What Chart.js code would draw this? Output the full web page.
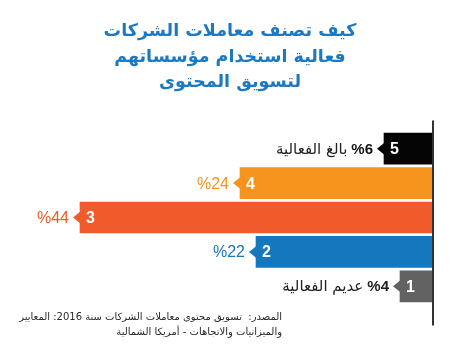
<!DOCTYPE html>
<html lang="ar">
<head>
<meta charset="utf-8">
<script src="https://cdn.jsdelivr.net/npm/chart.js@4.4.1/dist/chart.umd.min.js"></script>
<style>
    html, body { margin: 0; padding: 0; background: #fff; }
    #chart { display: block; }
</style>
</head>
<body>
<canvas id="chart" width="464" height="345"></canvas>
<script>
// ranks 5..1 (top to bottom) and share of companies per rank
const ranks = ['5', '4', '3', '2', '1'];
const shares = [6, 24, 44, 22, 4];
const rankNotes = ['بالغ الفعالية', '', '', '', 'عديم الفعالية'];

const titleLines = ['كيف تصنف معاملات الشركات', 'فعالية استخدام مؤسساتهم', 'لتسويق المحتوى'];
const sourceLines = [
    'المصدر:  تسويق محتوى معاملات الشركات سنة 2016: المعايير',
    'والميزانيات والاتجاهات - أمريكا الشمالية'
];

const barColors = ['#050505', '#f7941d', '#f15a2b', '#1577bd', '#626262'];
const labelColors = ['#111111', '#f7941d', '#f15a2b', '#1577bd', '#222222'];

const ARABIC = '"DejaVu Sans", "Noto Sans", sans-serif';
const LATIN = '"Liberation Sans", Arial, sans-serif';

// shrink a font until the widest line fits
function fitSize(ctx, lines, weight, size, maxWidth) {
    let s = size;
    while (s > 8) {
        ctx.font = weight + s + 'px ' + ARABIC;
        const w = Math.max(...lines.map(l => ctx.measureText(l).width));
        if (w <= maxWidth) break;
        s -= 0.25;
    }
    return s;
}

// arrow tips, rank numbers and value labels on each bar
const barDecor = {
    id: 'barDecor',
    afterDatasetsDraw(chart) {
        const ctx = chart.ctx;
        const meta = chart.getDatasetMeta(0);
        ctx.save();
        meta.data.forEach((bar, i) => {
            const left = bar.x;
            const cy = bar.y;

            // small left-pointing notch at the bar end
            ctx.fillStyle = barColors[i];
            ctx.beginPath();
            ctx.moveTo(left + 1, cy - 6.5);
            ctx.lineTo(left - 7, cy);
            ctx.lineTo(left + 1, cy + 6.5);
            ctx.closePath();
            ctx.fill();

            // rank number inside the bar
            ctx.fillStyle = '#ffffff';
            ctx.font = 'bold 16px ' + LATIN;
            ctx.textAlign = 'center';
            ctx.textBaseline = 'middle';
            ctx.fillText(ranks[i], left + 10.5, cy + 1);

            // value label, then optional note to its left
            const pct = '%' + shares[i];
            const xr = left - 11;
            ctx.textAlign = 'right';
            ctx.fillStyle = labelColors[i];
            ctx.font = (rankNotes[i] ? 'bold 15px ' : '16px ') + LATIN;
            ctx.fillText(pct, xr, cy + 1);
            if (rankNotes[i]) {
                const w = ctx.measureText(pct).width;
                ctx.font = '15px ' + ARABIC;
                ctx.fillStyle = '#222222';
                ctx.fillText(rankNotes[i], xr - w - 4, cy + 1);
            }
        });
        ctx.restore();
    }
};

// baseline rule, heading and source note
const frame = {
    id: 'frame',
    afterDraw(chart) {
        const ctx = chart.ctx;
        const area = chart.chartArea;
        ctx.save();

        ctx.strokeStyle = '#333333';
        ctx.lineWidth = 2;
        ctx.beginPath();
        ctx.moveTo(area.right + 1, area.top - 11);
        ctx.lineTo(area.right + 1, area.bottom + 22);
        ctx.stroke();

        ctx.direction = 'rtl';
        ctx.textBaseline = 'alphabetic';

        const ts = fitSize(ctx, titleLines, 'bold ', 19, 256);
        ctx.font = 'bold ' + ts + 'px ' + ARABIC;
        ctx.fillStyle = '#1b78c2';
        ctx.textAlign = 'center';
        titleLines.forEach((line, i) => {
            ctx.fillText(line, 230, 36 + i * 25.5);
        });

        const ss = fitSize(ctx, sourceLines, '', 12.5, 265);
        ctx.font = ss + 'px ' + ARABIC;
        ctx.fillStyle = '#2a2a2a';
        ctx.textAlign = 'right';
        sourceLines.forEach((line, i) => {
            ctx.fillText(line, 282, 320 + i * 14.5);
        });
        ctx.restore();
    }
};

new Chart(document.getElementById('chart'), {
    type: 'bar',
    data: {
        labels: ranks,
        datasets: [{
            data: shares,
            backgroundColor: barColors,
            borderWidth: 0,
            barThickness: 31
        }]
    },
    options: {
        indexAxis: 'y',
        responsive: false,
        animation: false,
        layout: { padding: { top: 131.5, bottom: 41.5, left: 0, right: 32 } },
        plugins: {
            legend: { display: false },
            title: { display: false },
            tooltip: { enabled: false }
        },
        scales: {
            x: { display: false, reverse: true, min: 0, max: 54 },
            y: { display: false }
        }
    },
    plugins: [barDecor, frame]
});
</script>
</body>
</html>
